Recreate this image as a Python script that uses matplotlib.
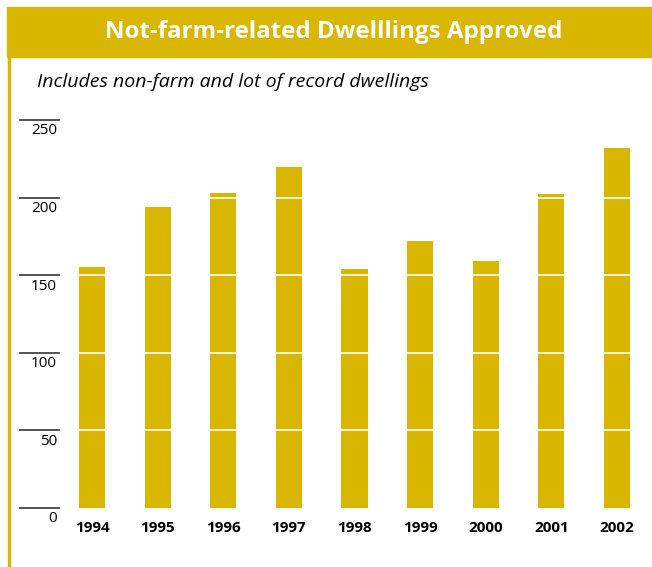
import matplotlib
matplotlib.use("Agg")
import matplotlib.pyplot as plt
from matplotlib.patches import Rectangle
from matplotlib.lines import Line2D

years = ["1994", "1995", "1996", "1997", "1998", "1999", "2000", "2001", "2002"]
dwellings = [155, 194, 203, 220, 154, 172, 159, 202, 232]
yticks = [0, 50, 100, 150, 200, 250]

gold = "#D9B700"
plt.rcParams['font.family'] = ['Open Sans', 'DejaVu Sans']

fig = plt.figure(figsize=(6.52, 5.67), dpi=100)

# title band and left rule
fig.patches.append(Rectangle((7/652, 1-57/567), 1, 50/567, transform=fig.transFigure,
                             color=gold, zorder=0))
fig.lines.append(Line2D([8.5/652, 8.5/652], [0, 1-57/567], transform=fig.transFigure,
                        color=gold, lw=2.5))
fig.text(334/652, 1-32/567, "Not-farm-related Dwelllings Approved", color="white",
         fontsize=17.4, fontweight="bold", ha="center", va="center")
fig.text(37/652, 1-82/567, "Includes non-farm and lot of record dwellings",
         fontsize=14, style="italic", ha="left", va="center")

ax = fig.add_axes([59.2/652, 1-508/567, 590.6/652, 388/567])
x = range(len(years))
ax.bar(x, dwellings, width=0.4, color=gold, zorder=1)
for v in yticks[1:-1]:
    ax.axhline(v, color="white", lw=1.2, zorder=2)

ax.set_xlim(-0.5, len(years) - 0.5)
ax.set_ylim(0, 250)
ax.set_xticks(list(x))
ax.set_xticklabels(years, fontweight="bold", fontsize=11)
ax.tick_params(axis="x", length=0, pad=9.5)
ax.set_yticks([])
for s in ax.spines.values():
    s.set_visible(False)

tr = ax.get_yaxis_transform()
for v in yticks:
    ax.plot([-0.066, 0], [v, v], transform=tr, clip_on=False, color="#333333", lw=1.2)
    ax.annotate(str(v), xy=(-0.004, v), xycoords=tr, xytext=(0, -2.5),
                textcoords="offset points", ha="right", va="top", fontsize=11)

fig.savefig("out.png", dpi=100)
